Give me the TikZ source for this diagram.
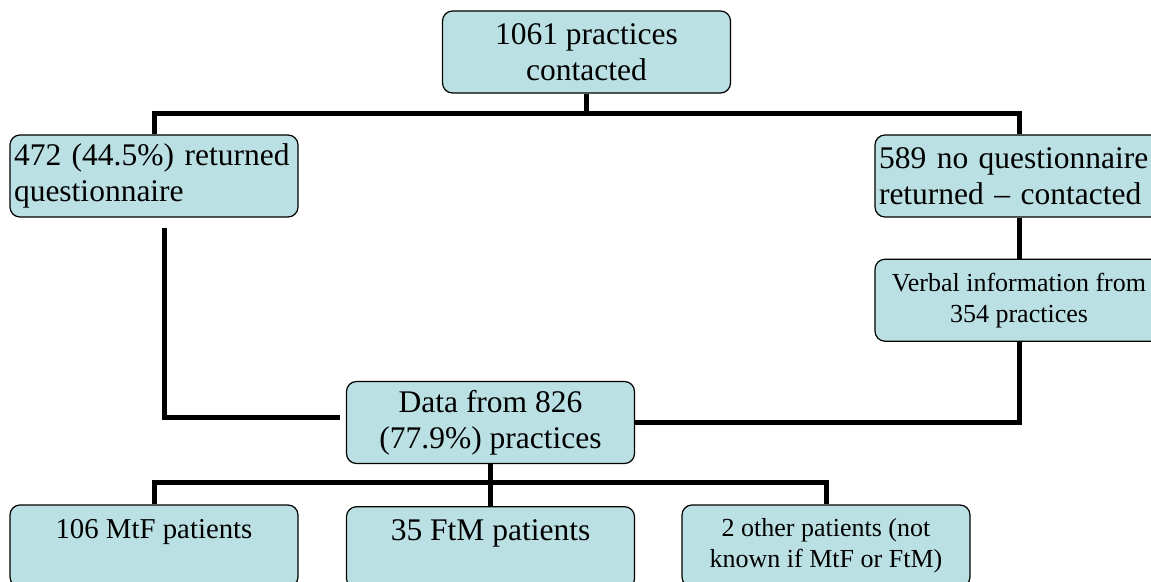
\documentclass[tikz,border=0pt]{standalone}
\usepackage{fontspec}
\setmainfont{Liberation Serif}
\usetikzlibrary{positioning}
\definecolor{boxfill}{RGB}{187,224,227}
\newcommand{\bigtxt}{\fontsize{15.75}{18}\selectfont}
\newcommand{\midtxt}{\fontsize{14.4}{17}\selectfont}
\newcommand{\smalltxt}{\fontsize{13}{15.5}\selectfont}
\tikzstyle{box} = [rectangle, rounded corners=5pt, 
minimum width=144pt, 
minimum height=41pt,
inner xsep=2pt,
align=center, 
fill=boxfill,
draw=black, line width=0.6pt]
\tikzstyle{leftbox} = [box, align=left, text width=140pt]
\tikzstyle{link} = [line width=2.5pt]

\begin{document}
\begin{tikzpicture}[x=0.5pt, y=-0.5pt]
\clip (0,0) rectangle (1151,582);
\node (contacted) [box, font=\bigtxt] at (586.5,52) {1061 practices\\contacted};
\node (returned) [leftbox, font=\bigtxt] at (154,176) {472 (44.5\%) returned\\questionnaire};
\node (noreturn) [leftbox, font=\bigtxt] at (1019,176) {589 no questionnaire\\returned -- contacted};
\node (verbal) [box, font=\smalltxt, below=20.5pt of noreturn] {Verbal information from\\354 practices};
\node (data) [box, font=\bigtxt] at (490.5,422.5) {Data from 826\\(77.9\%) practices};
\node (ftm) [box, font=\bigtxt, below=21pt of data] {35 FtM patients\\\mbox{}};
\node (mtf) [box, font=\midtxt] at (154,546) {106 MtF patients\\\mbox{}};
\node (other) [box, font=\smalltxt] at (826,546) {2 other patients (not\\known if MtF or FtM)};
%\node (lost) [box, below=20pt of verbal] {};
\coordinate (retfoot) at (164,228);
\coordinate (datagap) at (340,418);
\draw[link] (contacted.south) -- ++(0,22);
\draw[link] (returned.north) -- ++(0,-21) -| (noreturn.north);
\draw[link] (retfoot) |- (datagap);
\draw[link] (noreturn.south) -- (verbal.north);
\draw[link] (verbal.south) |- (data.east);
\draw[link] (data.south) -- (ftm.north);
\draw[link] (mtf.north) -- ++(0,-22) -| (other.north);
\end{tikzpicture}
\end{document}
